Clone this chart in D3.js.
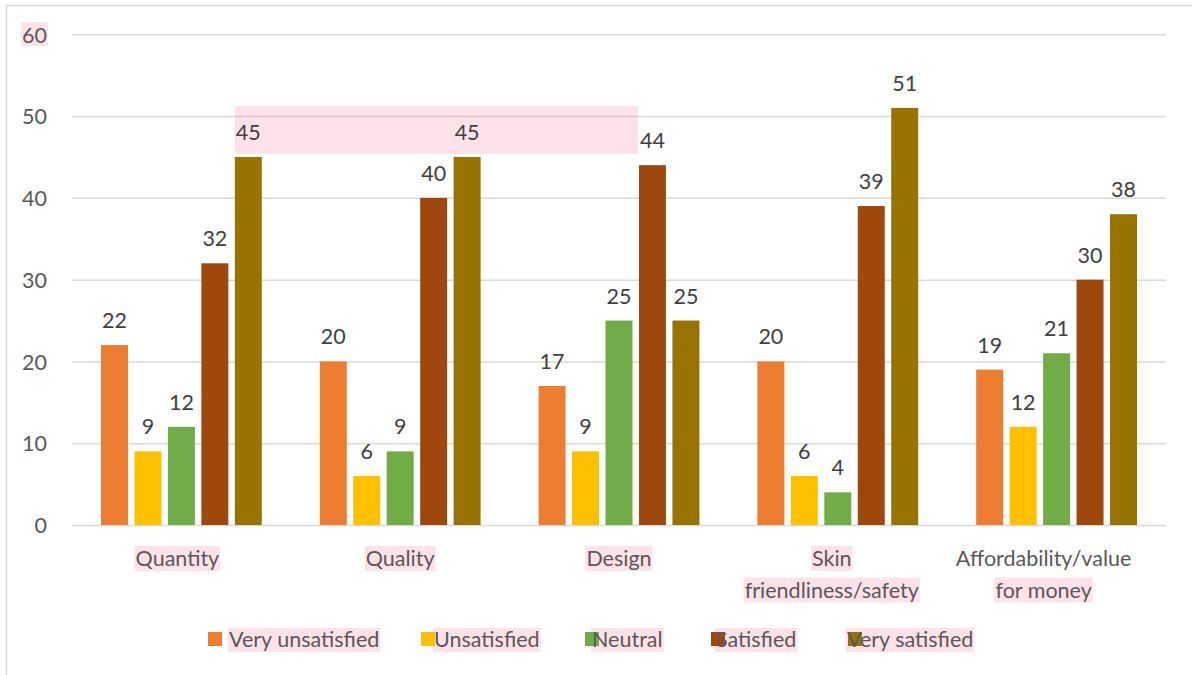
<!DOCTYPE html>
<html>
<head>
<meta charset="utf-8">
<script src="https://cdn.jsdelivr.net/npm/d3@7"></script>
<style>
  html, body { margin: 0; padding: 0; background: #ffffff; }
  svg text { font-family: Lato, "Open Sans", sans-serif; }
</style>
</head>
<body>
<svg id="chart" width="1192" height="675"></svg>
<script>
// Survey data: satisfaction ratings per product attribute
const categories = ["Quantity", "Quality", "Design", "Skin friendliness/safety", "Affordability/value for money"];
const categoryLines = [["Quantity"], ["Quality"], ["Design"], ["Skin", "friendliness/safety"], ["Affordability/value", "for money"]];
const seriesNames = ["Very unsatisfied", "Unsatisfied", "Neutral", "Satisfied", "Very satisfied"];
const veryUnsatisfied = [22, 20, 17, 20, 19];
const unsatisfied     = [9, 6, 9, 6, 12];
const neutral         = [12, 9, 25, 4, 21];
const satisfied       = [32, 40, 44, 39, 30];
const verySatisfied   = [45, 45, 25, 51, 38];
const yTicks = [0, 10, 20, 30, 40, 50, 60];

const seriesValues = [veryUnsatisfied, unsatisfied, neutral, satisfied, verySatisfied];
const colors = ["#ED7D31", "#FFC000", "#70AD47", "#9E480E", "#997300"];

const W = 1192, H = 675;
const plot = { left: 72, right: 1166, top: 34.3, bottom: 525 };
const FONT = 21.5;
const HL = "rgba(255, 120, 160, 0.22)";

const svg = d3.select("#chart");

// outer frame
svg.append("rect")
  .attr("x", 6.5).attr("y", 5.5).attr("width", W + 10).attr("height", H + 10)
  .attr("fill", "#ffffff").attr("stroke", "#d9d9d9").attr("stroke-width", 1.5);

const y = d3.scaleLinear().domain([0, 60]).range([plot.bottom, plot.top]);
const x0 = d3.scaleBand().domain(categories).range([plot.left, plot.right]).padding(0);
const groupPad = 29;
const x1 = d3.scaleBand().domain(seriesNames)
  .range([groupPad, x0.bandwidth() - groupPad])
  .paddingInner(0.194).paddingOuter(0);

// gridlines
const grid = svg.append("g").attr("transform", `translate(${plot.left},0)`)
  .call(d3.axisLeft(y).tickValues(yTicks).tickSize(-(plot.right - plot.left)).tickFormat(""));
grid.select(".domain").remove();
grid.selectAll(".tick line").attr("stroke", "#d9d9d9").attr("stroke-width", 1.5);

// bars
const rows = categories.map((c, i) => ({
  cat: c,
  vals: seriesNames.map((s, j) => ({ s, j, v: seriesValues[j][i] }))
}));

svg.append("g").selectAll("g").data(rows).join("g")
  .attr("transform", d => `translate(${x0(d.cat)},0)`)
  .selectAll("rect").data(d => d.vals).join("rect")
  .attr("x", d => x1(d.s))
  .attr("y", d => y(d.v))
  .attr("width", x1.bandwidth())
  .attr("height", d => y(0) - y(d.v))
  .attr("fill", d => colors[d.j]);

// highlight layer (beneath all text)
const hl = svg.append("g");
hl.append("rect").attr("x", 235).attr("y", 106).attr("width", 403).attr("height", 48).attr("fill", HL);

// y tick labels
const gy = svg.append("g").attr("transform", `translate(${plot.left},0)`)
  .call(d3.axisLeft(y).tickValues(yTicks).tickSize(0).tickPadding(25));
gy.select(".domain").remove();
gy.selectAll(".tick text")
  .attr("fill", "#595959").attr("font-size", FONT).attr("dy", "0.36em")
  .style("font-family", "Lato, sans-serif");

const topTick = gy.selectAll(".tick text").filter(d => d === 60).node();
if (topTick) {
  const b = topTick.getBBox();
  hl.append("rect").attr("x", plot.left + b.x - 1).attr("y", y(60) + b.y + 1)
    .attr("width", b.width + 2).attr("height", b.height - 2).attr("fill", HL);
}

// value labels
svg.append("g").selectAll("g").data(rows).join("g")
  .attr("transform", d => `translate(${x0(d.cat)},0)`)
  .selectAll("text").data(d => d.vals).join("text")
  .attr("x", d => x1(d.s) + x1.bandwidth() / 2)
  .attr("y", d => y(d.v) - 17)
  .attr("text-anchor", "middle")
  .attr("fill", "#404040")
  .attr("font-size", FONT)
  .text(d => d.v);

// category labels (wrapped)
const labelShift = [-4, 0, 0, -6, -13];
const highlightedLines = new Set(["Quantity", "Quality", "Design", "Skin", "friendliness/safety", "for money"]);
const catG = svg.append("g");
categoryLines.forEach((lines, i) => {
  const cx = x0(categories[i]) + x0.bandwidth() / 2 + labelShift[i];
  lines.forEach((ln, k) => {
    const t = catG.append("text")
      .attr("x", cx).attr("y", 566 + k * 31.5)
      .attr("text-anchor", "middle")
      .attr("fill", "#595959")
      .attr("font-size", FONT)
      .text(ln);
    if (highlightedLines.has(ln)) {
      const b = t.node().getBBox();
      hl.append("rect").attr("x", b.x - 1).attr("y", b.y + 1)
        .attr("width", b.width + 2).attr("height", b.height - 1).attr("fill", HL);
    }
  });
});

// legend
const legendMarkX = [208, 421, 585, 711, 848];
const legendTextX = [229, 434, 592, 716, 847];
const legG = svg.append("g");
seriesNames.forEach((s, j) => {
  const t = legG.append("text")
    .attr("x", legendTextX[j]).attr("y", 647)
    .attr("fill", "#595959")
    .attr("font-size", FONT)
    .text(s);
  const b = t.node().getBBox();
  legG.insert("rect", "text").attr("x", b.x - 1).attr("y", 628)
    .attr("width", b.width + 2).attr("height", 24).attr("fill", HL);
  legG.insert("rect", "text").attr("x", legendMarkX[j]).attr("y", 632)
    .attr("width", 14).attr("height", 14).attr("fill", colors[j]);
});
</script>
</body>
</html>
